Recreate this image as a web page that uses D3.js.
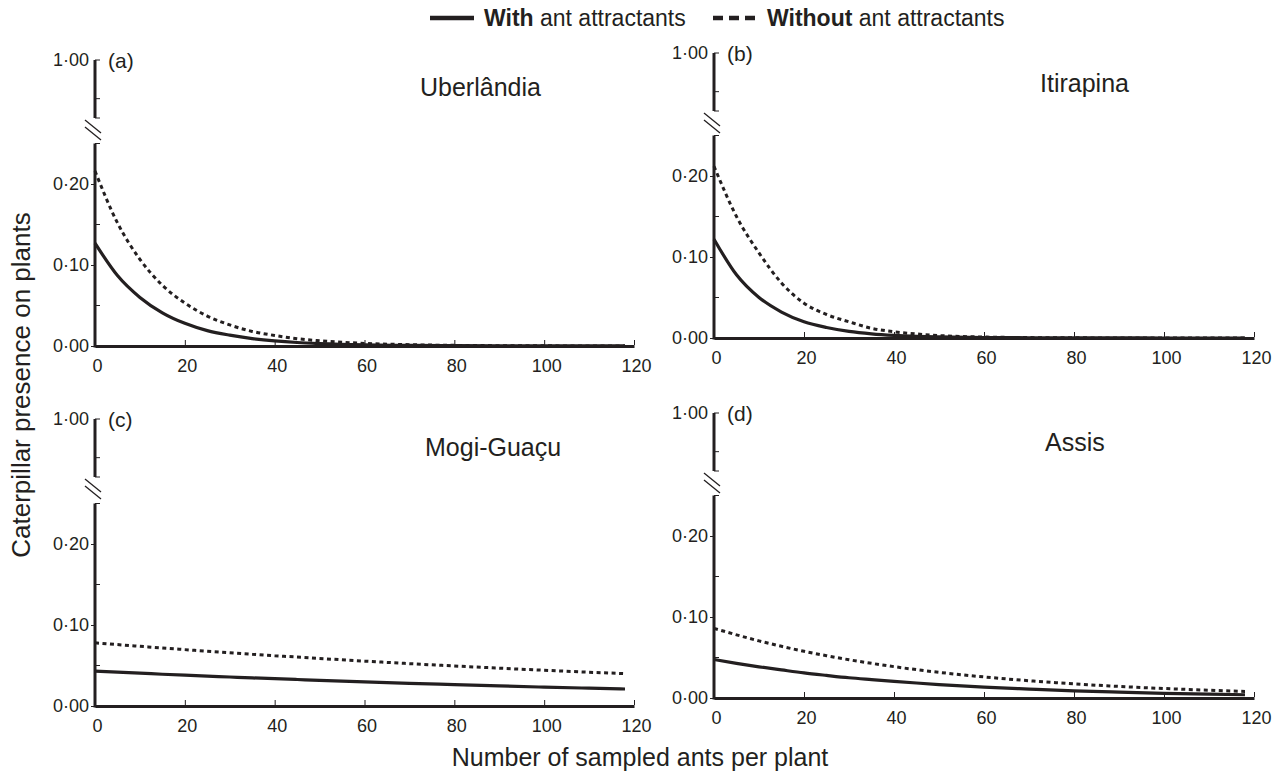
<!DOCTYPE html>
<html>
<head>
<meta charset="utf-8">
<script src="https://cdn.jsdelivr.net/npm/d3@7/dist/d3.min.js"></script>
<style>
  html, body { margin: 0; padding: 0; background: #fff; }
  svg { display: block; font-family: "Liberation Sans", Arial, Helvetica, sans-serif; }
</style>
</head>
<body>
<svg id="chart" width="1278" height="774"></svg>
<script>
// ---- data ----
const xValues = [0, 5, 10, 15, 20, 25, 30, 35, 40, 45, 50, 60, 70, 80, 90, 100, 110, 118];

const uberlandiaWith    = [0.127, 0.087, 0.060, 0.041, 0.028, 0.019, 0.0134, 0.0092, 0.0063, 0.0043, 0.003, 0.0014, 0.0007, 0.0004, 0.0002, 0.0001, 0.0001, 0.0001];
const uberlandiaWithout = [0.216, 0.152, 0.107, 0.075, 0.053, 0.037, 0.026, 0.018, 0.013, 0.009, 0.0065, 0.0032, 0.0016, 0.0008, 0.0004, 0.0002, 0.0001, 0.0001];

const itirapinaWith     = [0.122, 0.078, 0.050, 0.032, 0.020, 0.013, 0.0082, 0.0052, 0.0033, 0.0021, 0.0014, 0.0006, 0.0003, 0.0001, 0.0001, 0, 0, 0];
const itirapinaWithout  = [0.212, 0.150, 0.105, 0.068, 0.043, 0.029, 0.020, 0.012, 0.0077, 0.005, 0.003, 0.0012, 0.0005, 0.0002, 0.0001, 0, 0, 0];

const mogiWith          = [0.043, 0.0417, 0.0405, 0.0392, 0.038, 0.0369, 0.0358, 0.0347, 0.0337, 0.0327, 0.0317, 0.0298, 0.028, 0.0264, 0.0248, 0.0233, 0.022, 0.021];
const mogiWithout       = [0.078, 0.0758, 0.0737, 0.0716, 0.0696, 0.0676, 0.0657, 0.0639, 0.0621, 0.0604, 0.0587, 0.0554, 0.0523, 0.0494, 0.0467, 0.0441, 0.0417, 0.040];

const assisWith         = [0.0475, 0.0428, 0.0385, 0.0347, 0.031, 0.0279, 0.025, 0.0227, 0.0205, 0.0185, 0.0166, 0.0134, 0.011, 0.0088, 0.0072, 0.0058, 0.0047, 0.004];
const assisWithout      = [0.086, 0.078, 0.0705, 0.0638, 0.0577, 0.0522, 0.0472, 0.0428, 0.0387, 0.035, 0.0317, 0.026, 0.0213, 0.0174, 0.0143, 0.0117, 0.0096, 0.0081];

const panelLetters = ["(a)", "(b)", "(c)", "(d)"];
const siteNames = ["Uberlândia", "Itirapina", "Mogi-Guaçu", "Assis"];
const xTicks = [0, 20, 40, 60, 80, 100, 120];
const yMajorTicks = [0, 0.10, 0.20];
const yMinorTicks = [0.05, 0.15];
const yUpperTicks = [1.00];
const yUpperMinor = [0.90];
const legendLabels = [["With", " ant attractants"], ["Without", " ant attractants"]];
const axisTitleX = "Number of sampled ants per plant";
const axisTitleY = "Caterpillar presence on plants";

// ---- layout ----
const ink = "#231f20";
const layout = [
  { x0: 95,  x1: 634,  y0: 346, y1: 60,  tx: 420,  ty: 96 },
  { x0: 714, x1: 1254, y0: 338, y1: 53,  tx: 1040, ty: 92 },
  { x0: 95,  x1: 634,  y0: 706, y1: 419, tx: 425,  ty: 456 },
  { x0: 714, x1: 1254, y0: 698, y1: 413, tx: 1045, ty: 451 }
];
const series = [
  [uberlandiaWith, uberlandiaWithout],
  [itirapinaWith, itirapinaWithout],
  [mogiWith, mogiWithout],
  [assisWith, assisWithout]
];
const fmt = v => d3.format(".2f")(v).replace(".", "·");

const svg = d3.select("#chart");

layout.forEach((L, i) => {
  const g = svg.append("g");
  const x = d3.scaleLinear().domain([0, 120]).range([L.x0, L.x1]);
  const y = d3.scaleLinear().domain([0, 0.25]).range([L.y0, L.y0 - 202.5]);
  const yU = d3.scaleLinear().domain([0.85, 1.00]).range([L.y1 + 58, L.y1]);

  // x axis
  const xAxis = d3.axisBottom(x).tickValues(xTicks).tickSize(0).tickPadding(13).tickFormat(d3.format("d"));
  const gx = g.append("g").attr("transform", `translate(0,${L.y0})`).call(xAxis);
  gx.select(".domain").attr("stroke", ink).attr("stroke-width", 3);
  gx.selectAll("text").attr("fill", ink).attr("font-size", 18).attr("dx", 2);
  gx.selectAll(".tick").append("line").attr("y1", -1).attr("y2", -6).attr("stroke", ink).attr("stroke-width", 1);
  gx.selectAll(".tick").filter(d => d === 0).select("line").remove();

  // lower y axis
  const yAxis = d3.axisLeft(y).tickValues(yMajorTicks).tickSize(4).tickPadding(2).tickFormat(fmt);
  const gy = g.append("g").attr("transform", `translate(${L.x0},0)`).call(yAxis);
  gy.select(".domain").remove();
  gy.selectAll("text").attr("fill", ink).attr("font-size", 18);
  gy.selectAll(".tick line").attr("stroke", ink);
  g.append("line").attr("x1", L.x0).attr("x2", L.x0).attr("y1", y(0.25)).attr("y2", L.y0 + 1.5)
    .attr("stroke", ink).attr("stroke-width", 3);
  g.selectAll(".minor").data(yMinorTicks.concat([0.25])).join("line")
    .attr("x1", L.x0).attr("x2", L.x0 + 5).attr("y1", d => y(d)).attr("y2", d => y(d))
    .attr("stroke", ink).attr("stroke-width", 1);

  // upper y axis
  const yAxisU = d3.axisLeft(yU).tickValues(yUpperTicks).tickSize(0).tickPadding(6).tickFormat(fmt);
  const gyu = g.append("g").attr("transform", `translate(${L.x0},0)`).call(yAxisU);
  gyu.select(".domain").remove();
  gyu.selectAll("text").attr("fill", ink).attr("font-size", 18);
  g.append("line").attr("x1", L.x0).attr("x2", L.x0).attr("y1", yU(1.0)).attr("y2", yU(0.85))
    .attr("stroke", ink).attr("stroke-width", 3);
  g.selectAll(".uminor").data(yUpperMinor.concat(yUpperTicks, [0.85])).join("line")
    .attr("x1", L.x0).attr("x2", L.x0 + 5).attr("y1", d => yU(d)).attr("y2", d => yU(d))
    .attr("stroke", ink).attr("stroke-width", 1);

  // break marks
  const bTop = yU(0.85) + 2;
  [0, 7].forEach(off => {
    g.append("line")
      .attr("x1", L.x0 - 10).attr("y1", bTop + off)
      .attr("x2", L.x0 + 6).attr("y2", bTop + off + 13)
      .attr("stroke", ink).attr("stroke-width", 1.3);
  });

  // curves
  const line = d3.line().x((d, k) => x(xValues[k])).y(d => y(d)).curve(d3.curveMonotoneX);
  g.append("path").datum(series[i][1]).attr("d", line)
    .attr("fill", "none").attr("stroke", ink).attr("stroke-width", 3).attr("stroke-dasharray", "4,3.5");
  g.append("path").datum(series[i][0]).attr("d", line)
    .attr("fill", "none").attr("stroke", ink).attr("stroke-width", 3.2);

  // labels
  g.append("text").attr("x", L.x0 + 13).attr("y", L.y1 + 8).attr("font-size", 21).attr("fill", ink).text(panelLetters[i]);
  g.append("text").attr("x", L.tx).attr("y", L.ty).attr("font-size", 25).attr("fill", ink).text(siteNames[i]);
});

// legend
const leg = svg.append("g");
const legItems = [
  { x: 430, dash: null },
  { x: 713, dash: "10,6" }
];
legItems.forEach((it, k) => {
  leg.append("line").attr("x1", it.x).attr("x2", it.x + 44).attr("y1", 18).attr("y2", 18)
    .attr("stroke", ink).attr("stroke-width", 4.5).attr("stroke-dasharray", it.dash);
  const t = leg.append("text").attr("x", it.x + 54).attr("y", 26).attr("font-size", 23).attr("fill", ink);
  t.append("tspan").attr("font-weight", "bold").text(legendLabels[k][0]);
  t.append("tspan").text(legendLabels[k][1]);
});

// axis titles
svg.append("text").attr("x", 640).attr("y", 766).attr("text-anchor", "middle")
  .attr("font-size", 25).attr("fill", ink).text(axisTitleX);
svg.append("text").attr("transform", "translate(30,385) rotate(-90)").attr("text-anchor", "middle")
  .attr("font-size", 26).attr("fill", ink).text(axisTitleY);
</script>
</body>
</html>
